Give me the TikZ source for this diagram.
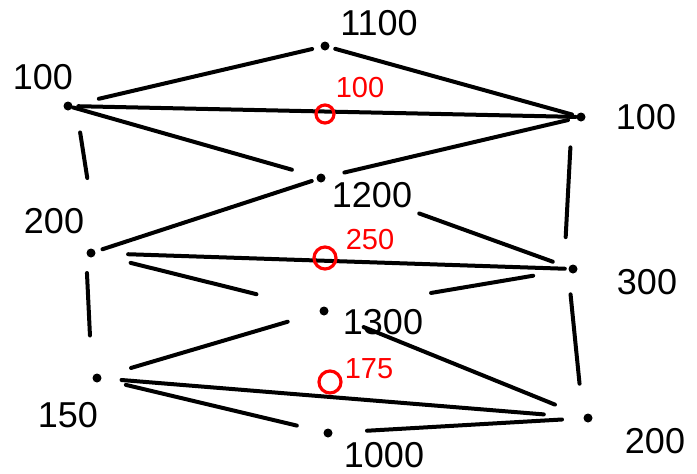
\documentclass[tikz,border=0pt]{standalone}
\usepackage{fontspec}
\setmainfont{Liberation Sans}
\usetikzlibrary{calc}

\begin{document}
\begin{tikzpicture}[x=1pt,y=-1pt,
    dot/.style={circle,fill=black,inner sep=0pt,minimum size=9pt},
    lbl/.style={font=\fontsize{36}{38}\selectfont},
    cost/.style={text=red,font=\fontsize{29}{31}\selectfont},
    cut/.style={circle,draw=red,line width=3.2pt,inner sep=0pt,minimum size=#1},
    wire/.style={line width=4pt,line cap=round}]
  \useasboundingbox (0,0) rectangle (697,474);
  % left column
  \node[dot] (l1) at (68,106) {};
  \node[dot] (l2) at (91,253) {};
  \node[dot] (l3) at (97,378) {};
  % middle column
  \node[dot] (m1) at (325,46) {};
  \node[dot] (m2) at (321,178) {};
  \node[dot] (m3) at (324,311) {};
  \node[dot] (m4) at (328,433) {};
  % right column
  \node[dot] (r1) at (581,117) {};
  \node[dot] (r2) at (573,269) {};
  \node[dot] (r3) at (588,418) {};
  % node values
  \node[lbl] (l1t) at (43,77) {100};
  \node[lbl] (l2t) at (54,221) {200};
  \node[lbl] (l3t) at (68,415) {150};
  \node[lbl] (m1t) at (379,23) {1100};
  \node[lbl] (m2t) at (372,195) {1200};
  \node[lbl] (m3t) at (383,322) {1300};
  \node[lbl] (m4t) at (384,455) {1000};
  \node[lbl] (r1t) at (646,117) {100};
  \node[lbl] (r2t) at (647,282) {300};
  \node[lbl] (r3t) at (655,441) {200};
  % edges: from/to/start/end/xshift
  \foreach \a/\b/\s/\e/\o in {l1/m1/.12/.95/0, l1/r1/.02/.99/0, l1/m2/.02/.885/0,
      m2/r1/.09/.95/0, m1/r1/.04/.965/0, l1/l2/.18/.49/8,
      l2/m2/.05/.96/0, l2/r2/.077/.983/0, l2/m3/.17/.71/0,
      m3/r2/.43/.84/0, m2/r2/.39/.92/0, r1/r2/.2/.79/-9,
      l2/l3/.16/.66/-5, r2/r3/.17/.77/-5,
      l3/m3/.15/.84/0, l3/r3/.05/.91/0, l3/m4/.125/.865/0,
      m3/r3/.15/.875/0, m4/r3/.15/.9/0}
    \draw[wire] ($(\a)!\s!(\b)+(\o,0)$) -- ($(\a)!\e!(\b)+(\o,0)$);
  % cuts
  \node[cut=18pt] (c1) at (325,114) {};
  \node[cut=22pt] (c2) at (325,258) {};
  \node[cut=22pt] (c3) at (330,382) {};
  \node[cost] (c1t) at (360,88) {100};
  \node[cost] (c2t) at (370,240) {250};
  \node[cost] (c3t) at (369,369) {175};
\end{tikzpicture}
\end{document}
